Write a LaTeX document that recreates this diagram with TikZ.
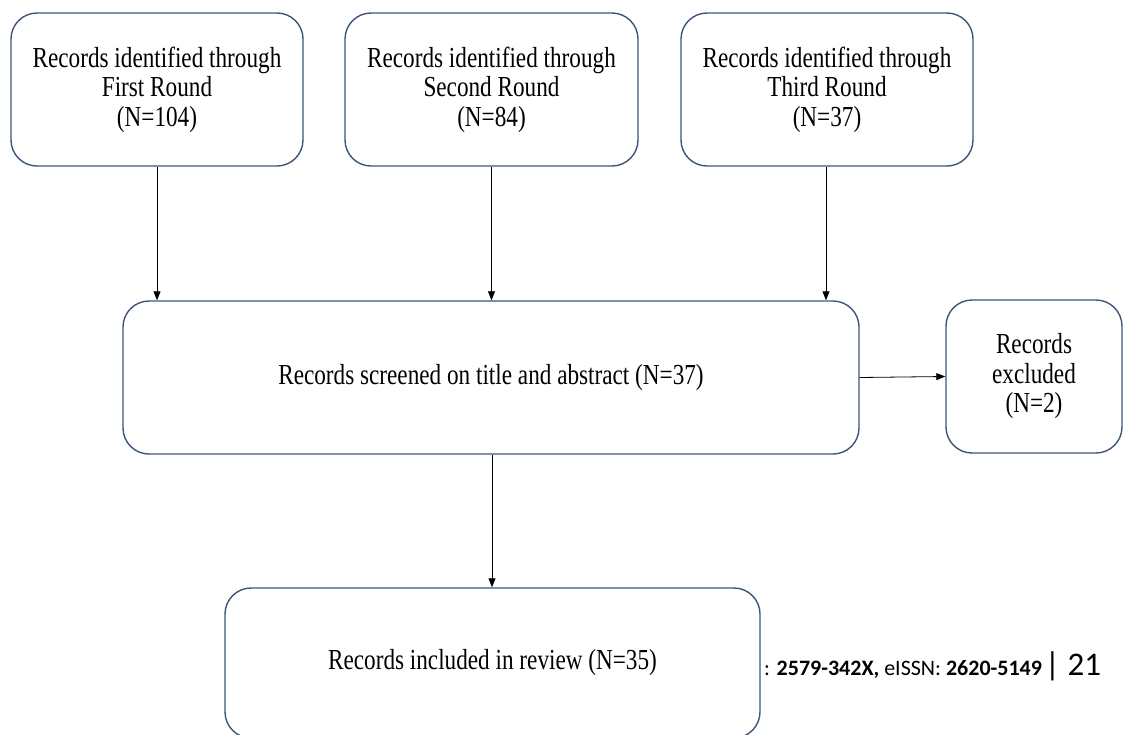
\documentclass[tikz,border=0pt]{standalone}
\usepackage{fontspec}
\setmainfont{Liberation Serif}
\newfontfamily\boxfont[FakeStretch=0.8]{Liberation Serif}
\newfontfamily\footfont{Carlito}
\usetikzlibrary{arrows.meta}
\definecolor{boxline}{RGB}{62,84,120}
\begin{document}
\begin{tikzpicture}[x=1pt,y=-1pt,
  box/.style={draw=boxline,line width=1.4pt,rounded corners=26pt,fill=white,
    align=center,inner sep=0pt,font=\boxfont\fontsize{29}{29.5}\selectfont},
  arr/.style={draw=black,line width=0.8pt,-{Triangle[length=9pt,width=7pt]}}]
\useasboundingbox (0,0) rectangle (1124,734);
\begin{scope}
\clip (0,0) rectangle (1124,734);
\node[box,minimum width=292pt,minimum height=153pt] (b1) at (157,89.5)
  {Records identified through\\First Round\\(N=104)};
\node[box,minimum width=293pt,minimum height=153pt] (b2) at (491.5,89.5)
  {Records identified through\\Second Round\\(N=84)};
\node[box,minimum width=292pt,minimum height=153pt] (b3) at (827,89.5)
  {Records identified through\\Third Round\\(N=37)};
\node[box,minimum width=736pt,minimum height=153pt] (screen) at (491,377.5)
  {Records screened on title and abstract (N=37)};
\node[box,minimum width=176pt,minimum height=153pt] (excl) at (1034,376.5)
  {Records\\excluded\\(N=2)};
\node[box,minimum width=535pt,minimum height=150pt] (incl) at (492.5,663)
  {Records included in review (N=35)};
\node[anchor=base west,inner sep=0pt,font=\footfont\fontsize{22}{26}\selectfont] (foot) at (764,675)
  {: \textbf{2579-342X,} eISSN: \textbf{2620-5149}\hspace{3pt}{\fontsize{33}{36}\selectfont| 21}};
\end{scope}
\draw[arr] (b1.south) -- (b1.south |- screen.north);
\draw[arr] (b2.south) -- (b2.south |- screen.north);
\draw[arr] ([xshift=-1pt]b3.south) -- ([xshift=-1pt]b3.south |- screen.north);
\draw[arr] (screen.east) -- (excl.west);
\draw[arr] ([xshift=1pt]screen.south) -- ([xshift=1pt]screen.south |- incl.north);
\end{tikzpicture}
\end{document}
